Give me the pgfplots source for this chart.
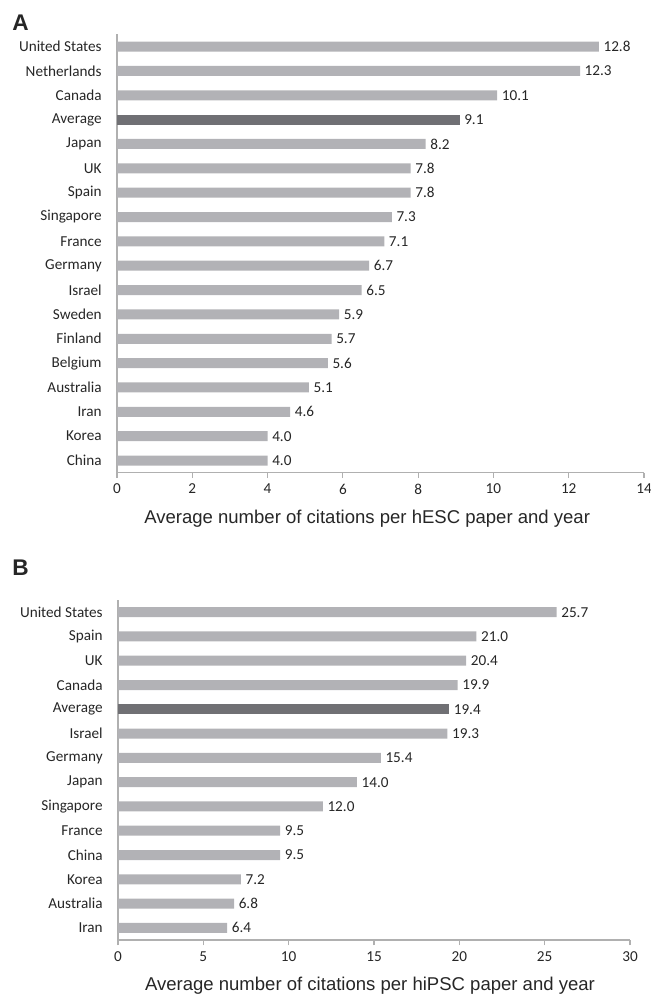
\documentclass[border=0pt]{standalone}
\usepackage{pgfplots}
\pgfplotsset{compat=1.18}
\usepackage{fontspec}
\setmainfont{Carlito}
\newfontfamily\arial{Liberation Sans}
\definecolor{barlight}{RGB}{178,178,182}
\definecolor{bardark}{RGB}{112,112,116}
\definecolor{axisgray}{RGB}{176,176,176}
\definecolor{txt}{RGB}{38,38,38}

\pgfplotsset{
  panel/.style={
    scale only axis,
    anchor=south west,
    xbar, bar shift=0pt, bar width=7.5pt,
    axis x line*=bottom, axis y line*=left,
    axis line style={axisgray, line width=0.9pt},
    x tick style={axisgray, line width=0.9pt},
    major tick length=4pt, tick align=outside,
    ytick style={draw=none},
    xmin=0,
    tick label style={font=\fontsize{11.4}{13}\selectfont, text=txt},
    yticklabel style={xshift=-4pt},
    xticklabel style={yshift=-1pt},
    /pgf/number format/assume math mode=true,
    xlabel style={font=\arial\fontsize{13.9}{15}\selectfont, text=txt, yshift=-5pt},
    nodes near coords,
    nodes near coords style={font=\fontsize{11.4}{13}\selectfont, text=txt,
      /pgf/number format/.cd, fixed, fixed zerofill, precision=1, assume math mode=true},
    every axis plot/.append style={draw=none},
  }
}

\begin{document}
\begin{tikzpicture}
\useasboundingbox (0,0) rectangle (487.5pt,-747pt);
\node[anchor=north west, inner sep=0pt, font=\arial\bfseries\fontsize{17}{19}\selectfont, text=txt] at (9pt,-11.25pt) {A};
\node[anchor=north west, inner sep=0pt, font=\arial\bfseries\fontsize{17}{19}\selectfont, text=txt] at (9pt,-420pt) {B};

\begin{axis}[panel,
  at={(87.75pt,-354.5pt)},
  width=395.25pt, height=328.7pt,
  xmax=14, xtick={0,2,...,14},
  ymin=-0.5, ymax=17.5,
  ytick={0,...,17},
  yticklabels={China,Korea,Iran,Australia,Belgium,Finland,Sweden,Israel,Germany,France,Singapore,Spain,UK,Japan,Average,Canada,Netherlands,United States},
  xlabel={Average number of citations per hESC paper and year},
  xlabel style={xshift=-10pt},
]
\addplot[fill=barlight] coordinates {
  (4.0,0) (4.0,1) (4.6,2) (5.1,3) (5.6,4) (5.7,5) (5.9,6) (6.5,7) (6.7,8)
  (7.1,9) (7.3,10) (7.8,11) (7.8,12) (8.2,13) (10.1,15) (12.3,16) (12.8,17)};
\addplot[fill=bardark] coordinates {(9.1,14)};
\end{axis}

\begin{axis}[panel,
  at={(88.5pt,-705pt)},
  width=384pt, height=255pt,
  xmax=30, xtick={0,5,...,30},
  ymin=-0.5, ymax=13.5,
  ytick={0,...,13},
  yticklabels={Iran,Australia,Korea,China,France,Singapore,Japan,Germany,Israel,Average,Canada,UK,Spain,United States},
  xlabel={Average number of citations per hiPSC paper and year},
  xlabel style={xshift=-3pt},
]
\addplot[fill=barlight] coordinates {
  (6.4,0) (6.8,1) (7.2,2) (9.5,3) (9.5,4) (12.0,5) (14.0,6) (15.4,7) (19.3,8)
  (19.9,10) (20.4,11) (21.0,12) (25.7,13)};
\addplot[fill=bardark] coordinates {(19.4,9)};
\end{axis}
\end{tikzpicture}
\end{document}
